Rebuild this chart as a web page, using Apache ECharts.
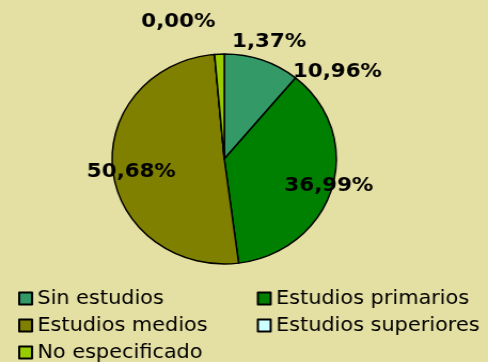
<!DOCTYPE html>
<html>
<head>
<meta charset="utf-8">
<script src="https://cdn.jsdelivr.net/npm/echarts@6/dist/echarts.min.js"></script>
<style>
  html, body { margin: 0; padding: 0; background: #E4DFA2; overflow: hidden; }
  /* the chart is drawn slightly narrower and widened to fill the frame */
  #chart { width: 457px; height: 362px; transform: scaleX(1.0678); transform-origin: 0 0; }
</style>
</head>
<body>
<div id="chart"></div>
<script>
// Nivel de estudios (porcentaje)
const categories = ['Sin estudios', 'Estudios primarios', 'Estudios medios', 'Estudios superiores', 'No especificado'];
const percentages = [10.96, 36.99, 50.68, 0.00, 1.37];

// slice colours, in category order
const sliceColors = ['#339966', '#008000', '#808000', '#CCFFFF', '#99CC00'];
// label offsets from the pie centre [dx, dy], in category order
const labelOffsets = [[106, -87], [98, 27], [-87, 13], [-43, -137], [42, -117]];

const pieCenter = [210, 159];
const pieRadius = 105;
const family = '"DejaVu Sans", Verdana, sans-serif';

const chart = echarts.init(document.getElementById('chart'), null, { renderer: 'canvas' });

const fmt = v => v.toFixed(2).replace('.', ',') + '%';

const legendText = { fontFamily: family, fontSize: 19.5, color: '#000', lineHeight: 20 };

chart.setOption({
  backgroundColor: '#E4DFA2',
  animation: false,
  legend: [
    {
      orient: 'vertical', left: 17, top: 288.5, height: 120, padding: 0,
      itemWidth: 12, itemHeight: 12, itemGap: 7,
      icon: 'rect', textStyle: legendText,
      data: [categories[0], categories[2], categories[4]]
    },
    {
      orient: 'vertical', left: 240.5, top: 288.5, height: 120, padding: 0,
      itemWidth: 12, itemHeight: 12, itemGap: 7,
      icon: 'rect', textStyle: legendText,
      data: [categories[1], categories[3]]
    }
  ],
  series: [{
    type: 'pie',
    center: pieCenter,
    radius: pieRadius,
    startAngle: 90,
    clockwise: true,
    avoidLabelOverlap: false,
    itemStyle: { borderColor: '#000', borderWidth: 1.5 },
    emphasis: { disabled: true },
    label: {
      show: true,
      position: 'inside',
      formatter: p => fmt(p.value),
      fontFamily: family,
      fontWeight: 'bold',
      fontSize: 20,
      color: '#000',
      align: 'center',
      verticalAlign: 'middle'
    },
    labelLine: { show: false },
    labelLayout: params => {
      const o = labelOffsets[params.dataIndex];
      return { x: pieCenter[0] + o[0], y: pieCenter[1] + o[1], align: 'center', verticalAlign: 'middle' };
    },
    data: categories.map((name, i) => ({
      name: name,
      value: percentages[i],
      itemStyle: { color: sliceColors[i] }
    }))
  }]
});
</script>
</body>
</html>
